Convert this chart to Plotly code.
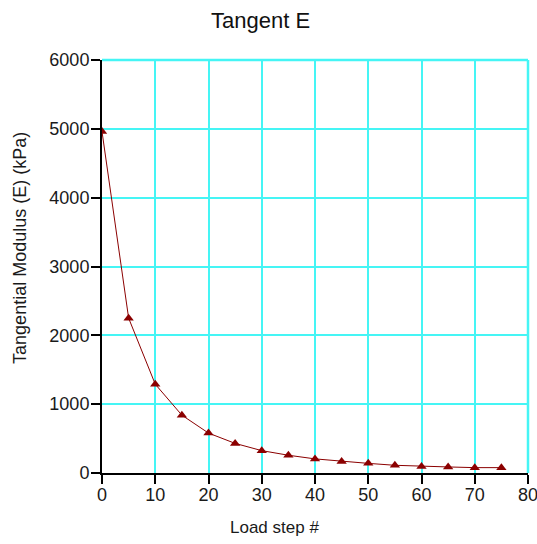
import plotly.graph_objs as go

load_step = [0, 5, 10, 15, 20, 25, 30, 35, 40, 45, 50, 55, 60, 65, 70, 75]
tangent_e = [4960, 2250, 1290, 840, 580, 430, 325, 258, 205, 167, 140, 112, 95, 88, 78, 78]

x_ticks = [0, 10, 20, 30, 40, 50, 60, 70, 80]
y_ticks = [0, 1000, 2000, 3000, 4000, 5000, 6000]

grid_col = '#45f5f5'
font = dict(family='Arial, Liberation Sans, sans-serif', size=18, color='#1a1a1a')

trace = go.Scatter(
    x=load_step, y=tangent_e, mode='lines+markers',
    line=dict(color='#8b0000', width=1),
    marker=dict(symbol='triangle-up', size=9, color='#8b0000'),
    showlegend=False,
)

fig = go.Figure(
    data=[trace],
    layout=go.Layout(
        width=537, height=544,
        margin=dict(l=102, r=9, t=60, b=71),
        paper_bgcolor='white', plot_bgcolor='white',
        font=font,
        xaxis=dict(
            range=[0, 80], tickvals=x_ticks, showgrid=True, gridcolor=grid_col, gridwidth=1.5,
            zeroline=False, showline=True, linecolor='black', linewidth=2, automargin=False,
            ticks='outside', ticklen=9, tickwidth=2, tickcolor='black',
            ticklabeloverflow='allow', ticklabelstandoff=-5,
        ),
        yaxis=dict(
            range=[0, 6000], tickvals=y_ticks, showgrid=True, gridcolor=grid_col, gridwidth=1.5,
            zeroline=False, showline=True, linecolor='black', linewidth=2, automargin=False,
            ticks='outside', ticklen=9, tickwidth=2, tickcolor='black',
            ticklabeloverflow='allow', ticklabelstandoff=-2,
        ),
        xaxis2=dict(
            range=[0, 80], tickvals=x_ticks, overlaying='x', side='bottom', anchor='y',
            showgrid=False, zeroline=False, showticklabels=False, automargin=False,
            ticks='inside', ticklen=9, tickwidth=2, tickcolor='black',
        ),
        yaxis2=dict(
            range=[0, 6000], tickvals=y_ticks, overlaying='y', side='left', anchor='x',
            showgrid=False, zeroline=False, showticklabels=False, automargin=False,
            ticks='inside', ticklen=9, tickwidth=2, tickcolor='black',
        ),
        shapes=[
            dict(type='line', xref='paper', yref='paper', x0=0, x1=1, y0=1, y1=1,
                 line=dict(color=grid_col, width=2.5)),
            dict(type='line', xref='paper', yref='paper', x0=1, x1=1, y0=0, y1=1,
                 line=dict(color=grid_col, width=2.5)),
        ],
        annotations=[
            dict(text='Tangent E', xref='paper', yref='paper', x=0.372, y=1.095,
                 xanchor='center', yanchor='middle', showarrow=False,
                 font=dict(size=22, color='#111111')),
            dict(text='Load step #', xref='paper', yref='paper', x=0.404, y=-0.133,
                 xanchor='center', yanchor='middle', showarrow=False,
                 font=dict(size=17)),
            dict(text='Tangential Modulus (E) (kPa)', xref='paper', yref='paper',
                 x=-0.1925, y=0.545, textangle=-90,
                 xanchor='center', yanchor='middle', showarrow=False,
                 font=dict(size=18)),
        ],
    )
)

# drop the default 8px body margin so the figure fills the window
fig.write_html("out.html", config={'displayModeBar': False},
               post_script="document.body.style.margin='0';")
